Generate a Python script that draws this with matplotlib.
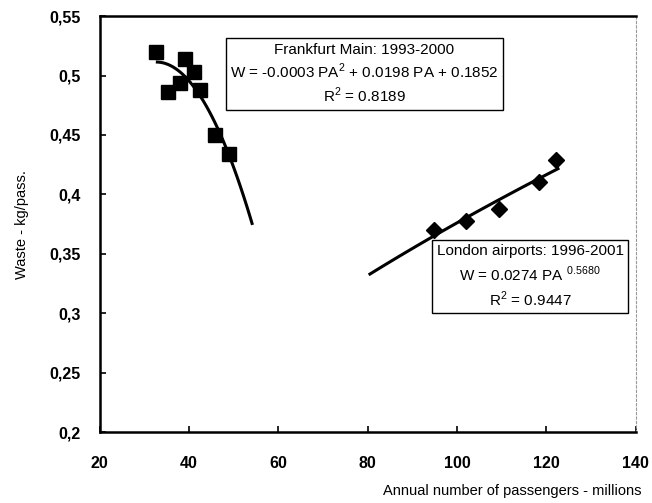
import numpy as np
import matplotlib
matplotlib.use("Agg")
import matplotlib.pyplot as plt

plt.rcParams['font.family'] = ['Liberation Sans', 'DejaVu Sans']

# Frankfurt Main 1993-2000 (passengers in millions, waste kg/pass.)
fra_pa = [32.7, 39.1, 41.0, 38.0, 35.3, 42.5, 45.8, 49.0]
fra_w = [0.520, 0.514, 0.503, 0.494, 0.486, 0.488, 0.450, 0.434]
# trend curve
fra_curve_pa = [32.9, 38.6, 42.8, 47.0, 50.7, 54.1]
fra_curve_w = [0.510, 0.503, 0.4835, 0.446, 0.415, 0.377]

# London airports 1996-2001
lon_pa = [94.9, 101.9, 109.3, 118.4, 122.2]
lon_w = [0.370, 0.378, 0.388, 0.410, 0.429]
lon_fit_range = [80.5, 122.6]

xticks = [20, 40, 60, 80, 100, 120, 140]
yticks = [0.2, 0.25, 0.3, 0.35, 0.4, 0.45, 0.5, 0.55]
ytick_labels = ['0,2', '0,25', '0,3', '0,35', '0,4', '0,45', '0,5', '0,55']

fig = plt.figure(figsize=(6.52, 5.03), dpi=100)
ax = fig.add_axes([0.153, 0.141, 0.822, 0.827])

# quadratic trend for Frankfurt
c2 = np.polyfit(fra_curve_pa, fra_curve_w, 2)
xf = np.linspace(fra_curve_pa[0], fra_curve_pa[-1], 100)
ax.plot(xf, np.polyval(c2, xf), color='black', lw=2.2, zorder=2)

# power trend for London (least squares in log space)
b, lna = np.polyfit(np.log(lon_pa), np.log(lon_w), 1)
xl = np.linspace(lon_fit_range[0], lon_fit_range[1], 100)
ax.plot(xl, np.exp(lna) * xl ** b, color='black', lw=2.2, zorder=2)

ax.plot(fra_pa, fra_w, 's', color='black', ms=10, zorder=3)
ax.plot(lon_pa, lon_w, 'D', color='black', ms=8, zorder=3)

ax.set_xlim(20, 140)
ax.set_ylim(0.2, 0.55)
ax.set_xticks(xticks)
ax.set_xticklabels([str(t) for t in xticks], fontsize=11.5, fontweight='bold')
ax.set_yticks(yticks)
ax.set_yticklabels(ytick_labels, fontsize=11.5, fontweight='bold')
ax.tick_params(direction='in', length=4, width=1.2)
ax.tick_params(axis='x', pad=17)
ax.tick_params(axis='y', pad=14)

for s in ['left', 'bottom', 'top']:
    ax.spines[s].set_linewidth(1.8)
ax.spines['right'].set_linewidth(0.8)
ax.spines['right'].set_color('#999999')
ax.spines['right'].set_linestyle((0, (2, 2)))

ax.set_ylabel('Waste - kg/pass.', fontsize=10.5, labelpad=14)
ax.set_xlabel('Annual number of passengers - millions', fontsize=10.5)
ax.xaxis.set_label_coords(1.01, -0.125)
ax.xaxis.label.set_horizontalalignment('right')

box = dict(boxstyle='square,pad=0.3', facecolor='white', edgecolor='black', lw=1.0)
ax.text(0.494, 0.861,
        'Frankfurt Main: 1993-2000\n'
        r'W = -0.0003 PA$^{\mathregular{2}}$ + 0.0198 PA + 0.1852' '\n'
        r'R$^{\mathregular{2}}$ = 0.8189',
        transform=ax.transAxes, ha='center', va='center', fontsize=11,
        linespacing=1.3, bbox=box, zorder=5)
ax.text(0.803, 0.374,
        'London airports: 1996-2001\n'
        r'W = 0.0274 PA $^{\mathregular{0.5680}}$' '\n'
        r'R$^{\mathregular{2}}$ = 0.9447',
        transform=ax.transAxes, ha='center', va='center', fontsize=11,
        linespacing=1.35, bbox=box, zorder=5)

fig.savefig('out.png', dpi=100)
